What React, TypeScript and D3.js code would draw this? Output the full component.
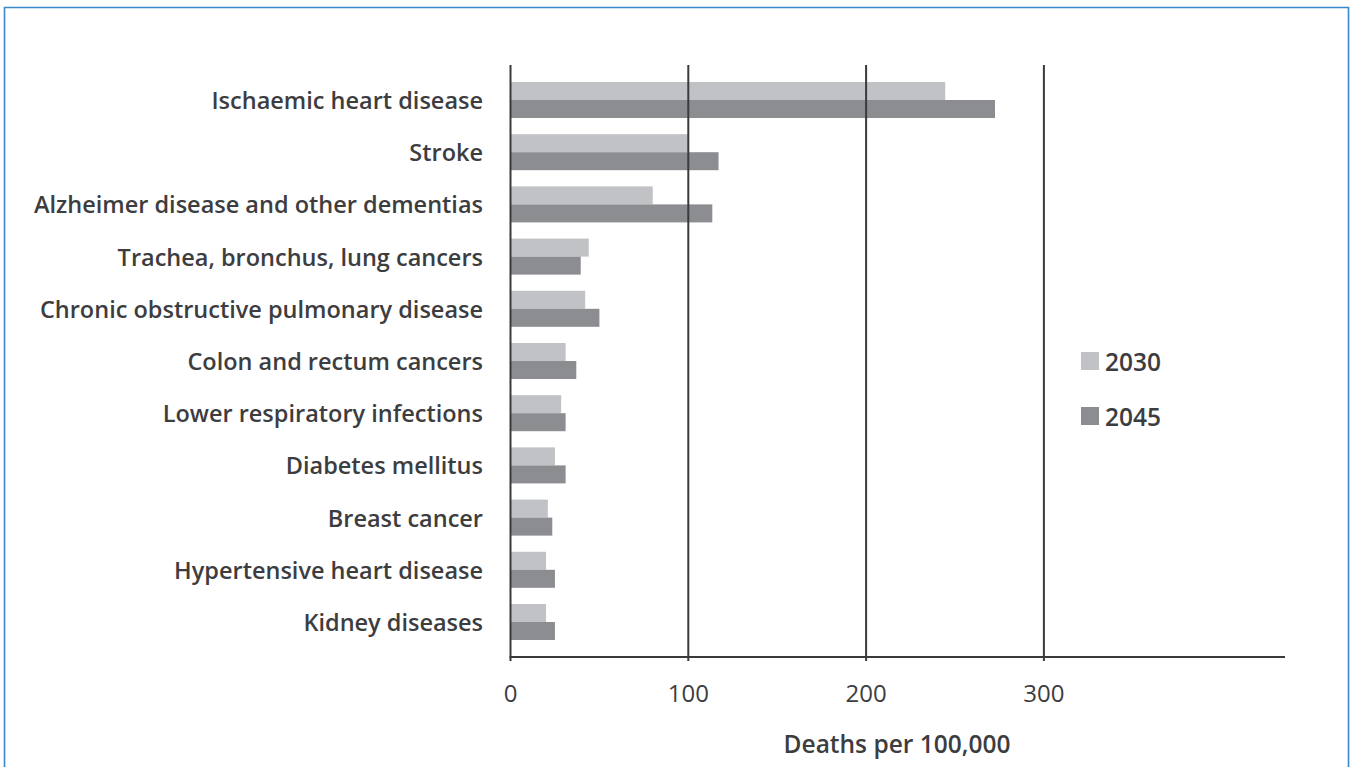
import React from "react";
import * as d3 from "d3";

const categories = [
  "Ischaemic heart disease",
  "Stroke",
  "Alzheimer disease and other dementias",
  "Trachea, bronchus, lung cancers",
  "Chronic obstructive pulmonary disease",
  "Colon and rectum cancers",
  "Lower respiratory infections",
  "Diabetes mellitus",
  "Breast cancer",
  "Hypertensive heart disease",
  "Kidney diseases",
];
const values2030 = [244.5, 100, 80, 44, 42, 31, 28.5, 25, 21, 20, 20];
const values2045 = [272.5, 117, 113.5, 39.5, 50, 37, 31, 31, 23.5, 25, 25];
const seriesNames = ["2030", "2045"];
const tickValues = [0, 100, 200, 300];
const axisTitle = "Deaths per 100,000";

const W = 1357;
const H = 767;
const FONT = "'Open Sans', 'Noto Sans', sans-serif";
const TEXT = "#3d3d3f";
const COLORS = ["#c1c2c6", "#8c8d91"];
const LINE = "#3a3a3c";

export default function App() {
  const x = d3.scaleLinear().domain([0, 435.6]).range([510.5, 1285]);
  const y = d3
    .scaleBand<string>()
    .domain(categories)
    .range([73.9, 648.1])
    .paddingInner(0.31)
    .paddingOuter(0.155);
  const ys = d3.scaleBand<string>().domain(seriesNames).range([0, y.bandwidth()]);
  const series = [values2030, values2045];
  const axisY = 657;
  const gridTop = 65;

  return (
    <div style={{ position: "absolute", left: 0, top: 0 }}>
      <svg width={W} height={H} style={{ display: "block", background: "#fff" }}>
        {/* frame */}
        <path
          d={`M4.5,${H + 2} L4.5,7.5 L1348.5,7.5 L1348.5,${H + 2}`}
          fill="none"
          stroke="#3b88c9"
          strokeWidth={1.6}
        />
        {/* bars */}
        {categories.map((c, i) => (
          <g key={c}>
            {series.map((vals, s) => (
              <rect
                key={s}
                x={x(0)}
                y={(y(c) as number) + (ys(seriesNames[s]) as number)}
                width={x(vals[i]) - x(0)}
                height={ys.bandwidth()}
                fill={COLORS[s]}
              />
            ))}
          </g>
        ))}
        {/* gridlines */}
        {tickValues.map((t) => (
          <line
            key={t}
            x1={x(t)}
            x2={x(t)}
            y1={gridTop}
            y2={axisY + 4}
            stroke={LINE}
            strokeWidth={2}
          />
        ))}
        {/* x axis */}
        <line x1={x(0) - 1} x2={x.range()[1]} y1={axisY} y2={axisY} stroke={LINE} strokeWidth={2} />
        {tickValues.map((t) => (
          <text
            key={t}
            x={x(t)}
            y={692}
            textAnchor="middle"
            dominantBaseline="central"
            fontFamily={FONT}
            fontSize={24}
            fontWeight={500}
            fill={TEXT}
          >
            {t}
          </text>
        ))}
        <text
          x={897}
          y={743}
          textAnchor="middle"
          dominantBaseline="central"
          fontFamily={FONT}
          fontSize={24.5}
          fontWeight={600}
          fill={TEXT}
        >
          {axisTitle}
        </text>
        {/* category labels */}
        {categories.map((c) => (
          <text
            key={c}
            x={483}
            y={(y(c) as number) + y.bandwidth() / 2}
            textAnchor="end"
            dominantBaseline="central"
            fontFamily={FONT}
            fontSize={23.5}
            fontWeight={600}
            fill={TEXT}
          >
            {c}
          </text>
        ))}
        {/* legend */}
        {seriesNames.map((s, i) => (
          <g key={s} transform={`translate(1081, ${352 + i * 55})`}>
            <rect x={0} y={0} width={18} height={18} fill={COLORS[i]} />
            <text
              x={24}
              y={9}
              dominantBaseline="central"
              fontFamily={FONT}
              fontSize={24.5}
              fontWeight={600}
              fill={TEXT}
            >
              {s}
            </text>
          </g>
        ))}
      </svg>
    </div>
  );
}
